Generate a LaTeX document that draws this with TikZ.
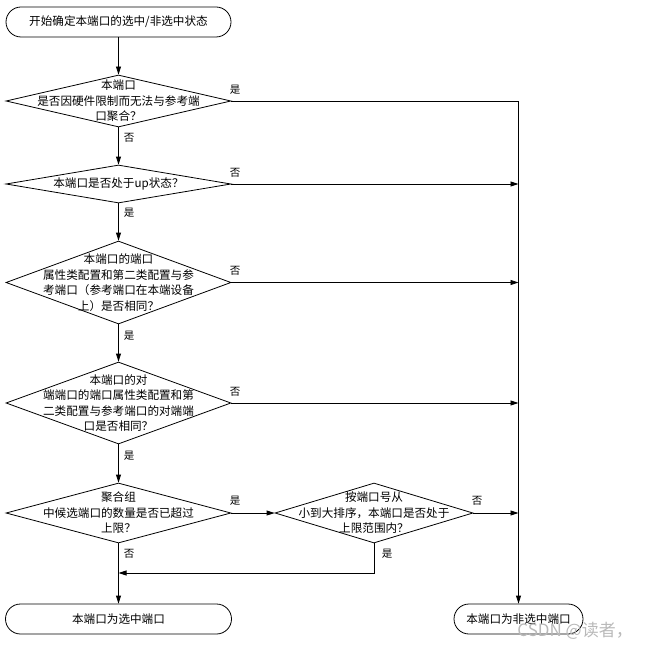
\documentclass[tikz,border=0pt]{standalone}
\usepackage{fontspec}
\newfontfamily\cjk{Noto Sans CJK SC}
\usetikzlibrary{shapes.geometric,arrows.meta,calc}
\begin{document}
\begin{tikzpicture}[x=1pt,y=-1pt,
  line width=0.8pt,
  base/.style={font=\cjk\fontsize{11.6}{15.5}\selectfont},
  term/.style={base,draw,rounded corners=15pt,minimum height=30pt,inner sep=0pt},
  dia/.style={draw,diamond,inner sep=0pt,minimum width=225pt},
  txt/.style={base,align=center,inner sep=0pt},
  lab/.style={font=\cjk\fontsize{10.5}{12}\selectfont,inner sep=0pt},
  arr/.style={-{Triangle[length=8pt,width=5pt]}},
]
\useasboundingbox (0,0) rectangle (658,647);
\node[term, minimum width=225pt] (s) at (118.5,22) {开始确定本端口的选中/非选中状态};
\node[dia, minimum height=52pt] (d1) at (118.5,101) {};
\node[txt] (t1) at (d1.center) {本端口\\是否因硬件限制而无法与参考端\\口聚合？};
\node[dia, minimum height=38pt] (d2) at (118.5,184) {};
\node[txt] (t2) at (d2.center) {本端口是否处于up状态？};
\node[dia, minimum height=83pt] (d3) at (118.5,282.5) {};
\node[txt] (t3) at (d3.center) {本端口的端口\\属性类配置和第二类配置与参\\考端口（参考端口在本端设备\\上）是否相同？};
\node[dia, minimum height=82pt] (d4) at (118.5,403) {};
\node[txt] (t4) at (d4.center) {本端口的对\\端端口的端口属性类配置和第\\二类配置与参考端口的对端端\\口是否相同？};
\node[dia, minimum height=60pt] (d5) at (118.5,513) {};
\node[txt] (t5) at (d5.center) {聚合组\\中候选端口的数量是否已超过\\上限？};
\node[dia, minimum width=198pt, minimum height=60pt] (d6) at (374,513) {};
\node[txt] (t6) at (d6.center) {按端口号从\\小到大排序，本端口是否处于\\上限范围内？};
\node[term, minimum width=226pt] (e1) at (118.5,619) {本端口为选中端口};
\node[term, minimum width=129pt] (e2) at (518.5,619) {本端口为非选中端口};
\coordinate (m) at (118.5,573);

\draw[arr] (s) -- (d1);
\draw[arr] (d1) -- (d2);
\draw[arr] (d2) -- (d3);
\draw[arr] (d3) -- (d4);
\draw[arr] (d4) -- (d5);
\draw[arr] (d5) -- (e1);
\draw[arr] (d1.east) -| (e2.north);
\draw[arr] (d2.east) -- (d2.east -| e2.north);
\draw[arr] (d3.east) -- (d3.east -| e2.north);
\draw[arr] (d4.east) -- (d4.east -| e2.north);
\draw[arr] (d6.east) -- (d6.east -| e2.north);
\draw[arr] (d5.east) -- (d6.west);
\draw[arr] (d6.south) |- (m);

\node[lab] (l1) at (235,89.5) {是};
\node[lab] (l2) at (129,138) {否};
\node[lab] (l3) at (235,172.5) {否};
\node[lab] (l4) at (129,213) {是};
\node[lab] (l5) at (235,271) {否};
\node[lab] (l6) at (129,336) {是};
\node[lab] (l7) at (235,392) {否};
\node[lab] (l8) at (129,456) {是};
\node[lab] (l9) at (235,501) {是};
\node[lab] (l10) at (477,501) {否};
\node[lab] (l11) at (387,554) {是};
\node[lab] (l12) at (129,554) {否};

\node[font=\cjk\fontsize{17}{17}\selectfont, text=gray!55, anchor=base west, inner sep=0pt] (wm) at (517,636) {CSDN @读者，};
\end{tikzpicture}
\end{document}
